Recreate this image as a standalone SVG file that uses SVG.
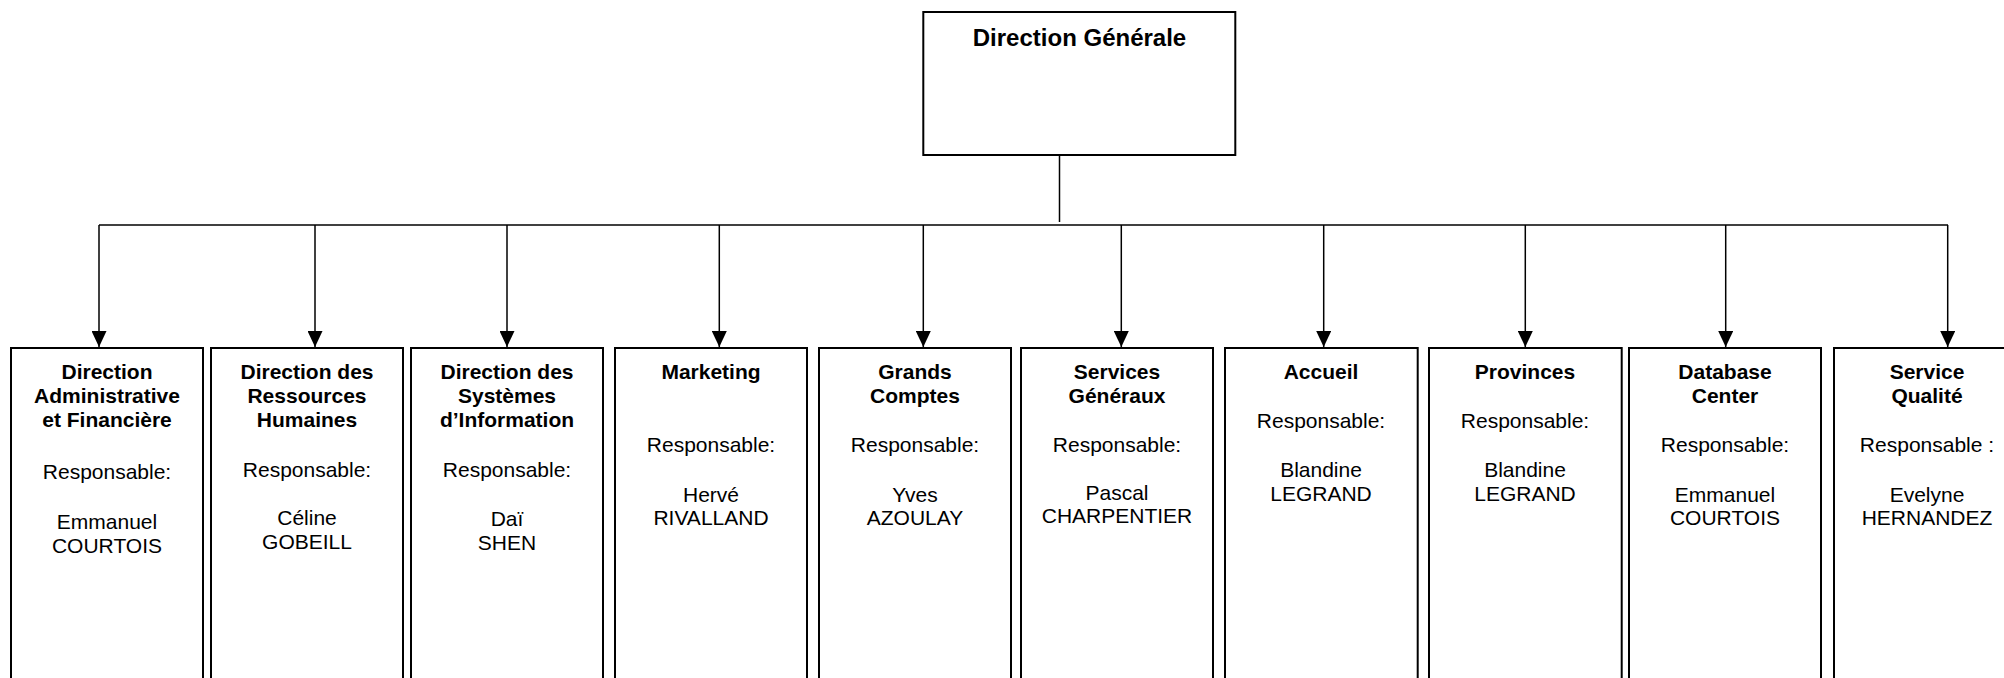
<svg xmlns="http://www.w3.org/2000/svg" width="2004" height="678" viewBox="0 0 2004 678">
<style>
.box{fill:#fff;stroke:#000;stroke-width:2}
.ln{fill:none;stroke:#000;stroke-width:1.5}
.arr{fill:none;stroke:#000;stroke-width:1.5;marker-end:url(#ah)}
text{font-family:"Liberation Sans",Arial,sans-serif;font-size:21px;fill:#000;text-anchor:middle}
.b{font-weight:bold}
.top{font-size:24px;font-weight:bold}
</style>
<defs>
<marker id="ah" markerUnits="userSpaceOnUse" markerWidth="16" markerHeight="15" viewBox="0 0 16 15" refX="16" refY="7.5" orient="auto">
<path d="M0,0 L16,7.5 L0,15 Z" fill="#000"/>
</marker>
</defs>
<g id="connectors">
<line class="ln" x1="1059.5" y1="155" x2="1059.5" y2="222"/>
<line class="ln" x1="99" y1="225" x2="1948" y2="225"/>
<line class="arr" x1="99" y1="225" x2="99" y2="347"/>
<line class="arr" x1="315" y1="225" x2="315" y2="347"/>
<line class="arr" x1="507" y1="225" x2="507" y2="347"/>
<line class="arr" x1="719.3" y1="225" x2="719.3" y2="347"/>
<line class="arr" x1="923.3" y1="225" x2="923.3" y2="347"/>
<line class="arr" x1="1121.3" y1="225" x2="1121.3" y2="347"/>
<line class="arr" x1="1323.7" y1="225" x2="1323.7" y2="347"/>
<line class="arr" x1="1525.3" y1="225" x2="1525.3" y2="347"/>
<line class="arr" x1="1725.7" y1="225" x2="1725.7" y2="347"/>
<line class="arr" x1="1947.7" y1="225" x2="1947.7" y2="347"/>
</g>
<g id="direction-generale">
<rect class="box" x="923.3" y="12" width="312" height="143"/>
<text class="top" x="1079.5" y="46">Direction Générale</text>
</g>
<g id="daf">
<rect class="box" x="11" y="348" width="192" height="360"/>
<text class="b" x="107" y="379">Direction</text>
<text class="b" x="107" y="403">Administrative</text>
<text class="b" x="107" y="427">et Financière</text>
<text x="107" y="479">Responsable:</text>
<text x="107" y="529">Emmanuel</text>
<text x="107" y="553">COURTOIS</text>
</g>
<g id="drh">
<rect class="box" x="211" y="348" width="192" height="360"/>
<text class="b" x="307" y="379">Direction des</text>
<text class="b" x="307" y="403">Ressources</text>
<text class="b" x="307" y="427">Humaines</text>
<text x="307" y="477">Responsable:</text>
<text x="307" y="525">Céline</text>
<text x="307" y="549">GOBEILL</text>
</g>
<g id="dsi">
<rect class="box" x="411" y="348" width="192" height="360"/>
<text class="b" x="507" y="379">Direction des</text>
<text class="b" x="507" y="403">Systèmes</text>
<text class="b" x="507" y="427">d’Information</text>
<text x="507" y="477">Responsable:</text>
<text x="507" y="526">Daï</text>
<text x="507" y="550">SHEN</text>
</g>
<g id="marketing">
<rect class="box" x="615" y="348" width="192" height="360"/>
<text class="b" x="711" y="379">Marketing</text>
<text x="711" y="452">Responsable:</text>
<text x="711" y="502">Hervé</text>
<text x="711" y="525">RIVALLAND</text>
</g>
<g id="grands-comptes">
<rect class="box" x="819" y="348" width="192" height="360"/>
<text class="b" x="915" y="379">Grands</text>
<text class="b" x="915" y="403">Comptes</text>
<text x="915" y="452">Responsable:</text>
<text x="915" y="502">Yves</text>
<text x="915" y="525">AZOULAY</text>
</g>
<g id="services-generaux">
<rect class="box" x="1021" y="348" width="192" height="360"/>
<text class="b" x="1117" y="379">Services</text>
<text class="b" x="1117" y="403">Généraux</text>
<text x="1117" y="452">Responsable:</text>
<text x="1117" y="500">Pascal</text>
<text x="1117" y="523">CHARPENTIER</text>
</g>
<g id="accueil">
<rect class="box" x="1225" y="348" width="192.7" height="360"/>
<text class="b" x="1321" y="379">Accueil</text>
<text x="1321" y="428">Responsable:</text>
<text x="1321" y="477">Blandine</text>
<text x="1321" y="501">LEGRAND</text>
</g>
<g id="provinces">
<rect class="box" x="1429" y="348" width="192.7" height="360"/>
<text class="b" x="1525" y="379">Provinces</text>
<text x="1525" y="428">Responsable:</text>
<text x="1525" y="477">Blandine</text>
<text x="1525" y="501">LEGRAND</text>
</g>
<g id="database-center">
<rect class="box" x="1629" y="348" width="192" height="360"/>
<text class="b" x="1725" y="379">Database</text>
<text class="b" x="1725" y="403">Center</text>
<text x="1725" y="452">Responsable:</text>
<text x="1725" y="502">Emmanuel</text>
<text x="1725" y="525">COURTOIS</text>
</g>
<g id="service-qualite">
<rect class="box" x="1834" y="348" width="192" height="360"/>
<text class="b" x="1927" y="379">Service</text>
<text class="b" x="1927" y="403">Qualité</text>
<text x="1927" y="452">Responsable :</text>
<text x="1927" y="502">Evelyne</text>
<text x="1927" y="525">HERNANDEZ</text>
</g>
</svg>
